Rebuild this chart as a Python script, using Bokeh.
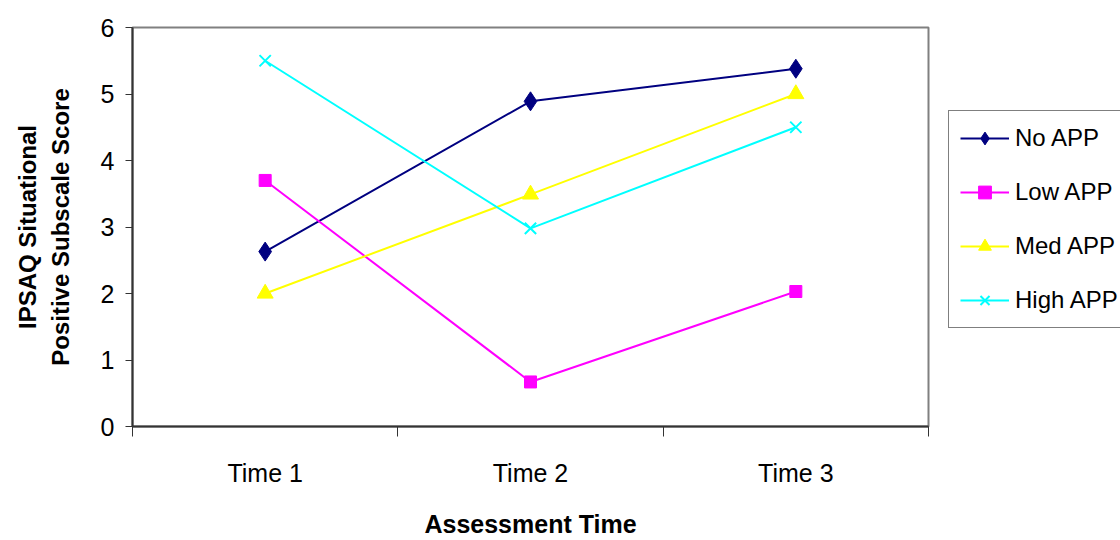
from bokeh.plotting import figure
from bokeh.layouts import row
from bokeh.models import Range1d, FixedTicker, Legend, LegendItem
from bokeh.embed import file_html
from bokeh.resources import INLINE

# Assessment points and the four APP groups
categories = ["Time 1", "Time 2", "Time 3"]
no_app = [2.63, 4.89, 5.38]
low_app = [3.70, 0.67, 2.03]
med_app = [2.00, 3.49, 5.00]
high_app = [5.50, 2.98, 4.50]
series_names = ["No APP", "Low APP", "Med APP", "High APP"]
y_ticks = [0, 1, 2, 3, 4, 5, 6]

FONT = "Liberation Sans"

# categories sit in the middle of unit-wide slots
xs = [i + 0.5 for i in range(len(categories))]

p = figure(
    width=948, height=540,
    x_range=Range1d(0, len(categories)), y_range=Range1d(0, 6),
    output_backend="svg", toolbar_location=None, title=None,
    min_border_left=132, min_border_right=20,
    min_border_top=27, min_border_bottom=114,
)
p.background_fill_color = "white"
p.border_fill_color = "white"
p.outline_line_color = "#808080"
p.outline_line_width = 2
p.xgrid.visible = False
p.ygrid.visible = False

# x axis: labels at slot centres, tick marks at slot boundaries
xa = p.xaxis[0]
xa.ticker = FixedTicker(ticks=xs, minor_ticks=list(range(len(categories) + 1)))
xa.major_label_overrides = {x: c for x, c in zip(xs, categories)}
xa.major_tick_out = 0
xa.major_tick_in = 0
xa.minor_tick_out = 10
xa.minor_tick_in = 0
xa.minor_tick_line_color = "#333333"
xa.axis_line_color = "#333333"
xa.axis_line_width = 2
xa.major_label_standoff = 22
xa.major_label_text_font = FONT
xa.major_label_text_font_size = "25px"
xa.major_label_text_color = "black"
xa.axis_label = "Assessment Time"
xa.axis_label_text_font = FONT
xa.axis_label_text_font_size = "25px"
xa.axis_label_text_font_style = "bold"
xa.axis_label_text_color = "black"
xa.axis_label_standoff = 20

ya = p.yaxis[0]
ya.ticker = FixedTicker(ticks=y_ticks)
ya.minor_tick_line_color = None
ya.major_tick_out = 7
ya.major_tick_in = 0
ya.major_tick_line_color = "#333333"
ya.axis_line_color = "#333333"
ya.axis_line_width = 2
ya.major_label_standoff = 11
ya.major_label_text_font = FONT
ya.major_label_text_font_size = "25px"
ya.major_label_text_color = "black"
ya.axis_label = "IPSAQ Situational\nPositive Subscale Score"
ya.axis_label_text_font = FONT
ya.axis_label_text_font_size = "24px"
ya.axis_label_text_font_style = "bold"
ya.axis_label_text_color = "black"
ya.axis_label_standoff = 24

styles = [
    (no_app, "#000080", "diamond", 19),
    (low_app, "#FF00FF", "square", 12),
    (med_app, "#FFFF00", "triangle", 16),
    (high_app, "#00FFFF", "x", 16),
]


def draw_series(fig, x, y, color, marker, size):
    ln = fig.line(x, y, line_color=color, line_width=2)
    if marker == "x":
        sc = fig.scatter(x, y, marker=marker, size=size, line_color=color, line_width=2)
    else:
        sc = fig.scatter(x, y, marker=marker, size=size, fill_color=color, line_color=color)
    return ln, sc


for vals, color, marker, size in styles:
    draw_series(p, xs, vals, color, marker, size)

# key panel to the right of the plot area; its y range lies above every
# score, so only the legend entries are visible there
key = figure(
    width=172, height=540, x_range=Range1d(0, 3), y_range=Range1d(100, 101),
    output_backend="svg", toolbar_location=None, title=None,
    x_axis_type=None, y_axis_type=None,
    min_border_left=0, min_border_right=0, min_border_top=0, min_border_bottom=0,
)
key.outline_line_color = None
key.xgrid.visible = False
key.ygrid.visible = False
key.background_fill_color = "white"
key.border_fill_color = "white"

items = []
for name, (vals, color, marker, size) in zip(series_names, styles):
    ln, sc = draw_series(key, xs, vals, color, marker, size)
    items.append(LegendItem(label=name, renderers=[ln, sc]))

legend = Legend(
    items=items,
    location=(0, 98),
    margin=0,
    padding=11,
    spacing=22,
    glyph_width=49,
    glyph_height=32,
    label_height=32,
    label_standoff=6,
    label_text_font=FONT,
    label_text_font_size="24px",
    label_text_color="black",
    border_line_color="black",
    border_line_width=1,
    background_fill_color="white",
    background_fill_alpha=1.0,
)
key.add_layout(legend, "center")

layout = row(p, key, spacing=0)
open("out.html", "w").write(file_html(layout, INLINE))
